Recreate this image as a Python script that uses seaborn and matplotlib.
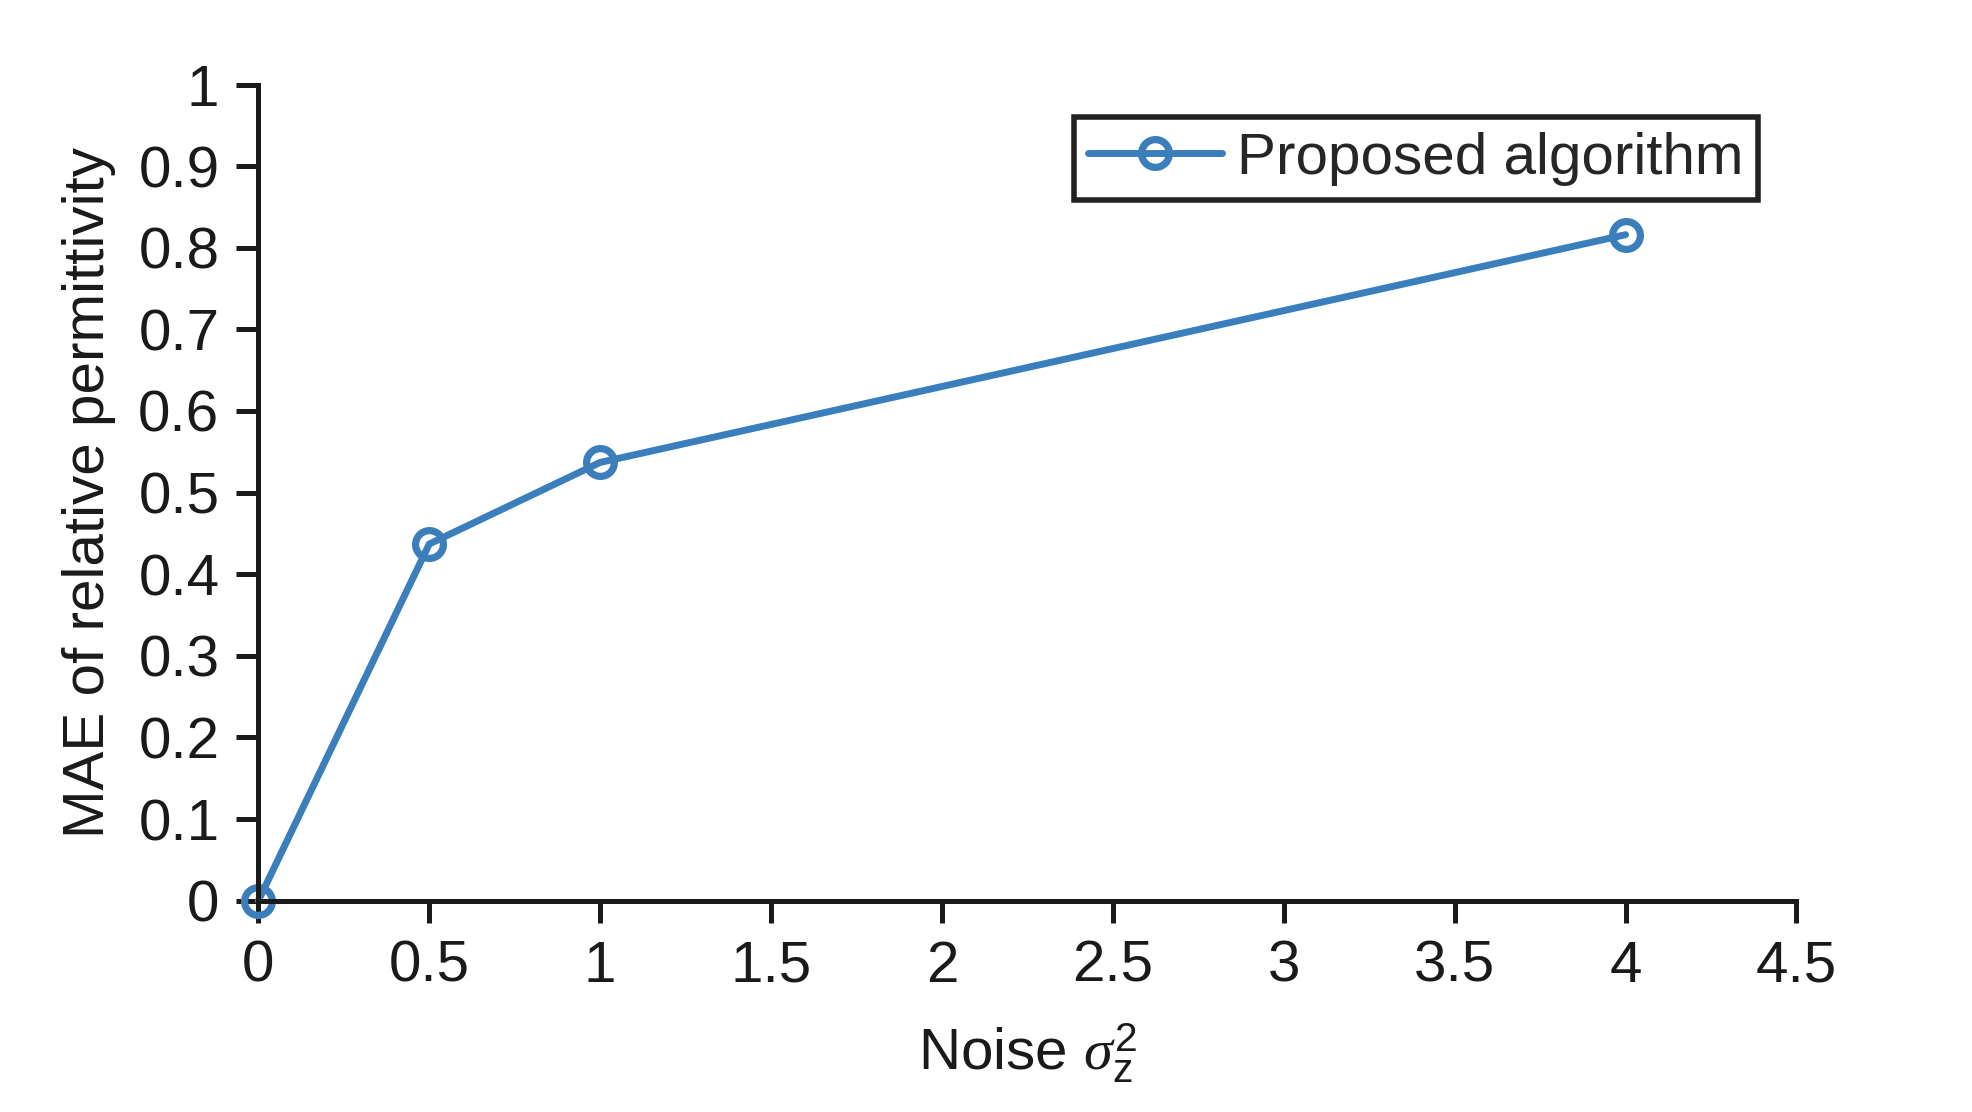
import pandas as pd
import matplotlib
matplotlib.use('Agg')
import matplotlib.pyplot as plt
import seaborn as sns

# Data
noise = [0, 0.5, 1, 4]
mae = [0.0, 0.437, 0.537, 0.816]
series_name = 'Proposed algorithm'
x_ticks = [0, 0.5, 1, 1.5, 2, 2.5, 3, 3.5, 4, 4.5]
y_ticks = [0, 0.1, 0.2, 0.3, 0.4, 0.5, 0.6, 0.7, 0.8, 0.9, 1]

df = pd.DataFrame({'Noise': noise, 'MAE': mae, 'Method': series_name})

sns.set_style('ticks')
plt.rcParams['font.family'] = ['Liberation Sans', 'DejaVu Sans']
plt.rcParams['mathtext.fontset'] = 'custom'
plt.rcParams['mathtext.it'] = 'Liberation Serif:italic'
plt.rcParams['mathtext.rm'] = 'Liberation Sans'

fig = plt.figure(figsize=(9.86, 5.56), dpi=200)
ax = fig.add_axes([0.131, 0.19, 0.78, 0.734])

line_color = '#3a7ebb'
sns.lineplot(data=df, x='Noise', y='MAE', hue='Method', palette=[line_color],
             marker='o', markersize=10, markerfacecolor='none',
             markeredgecolor=line_color, markeredgewidth=2.6,
             linewidth=2.5, ax=ax, clip_on=False)

ax.set_xlim(0, 4.5)
ax.set_ylim(0, 1)
ax.set_xticks(x_ticks)
ax.set_xticklabels([f'{t:g}' for t in x_ticks])
ax.set_yticks(y_ticks)
ax.set_yticklabels([f'{t:g}' for t in y_ticks])

for side in ['top', 'right']:
    ax.spines[side].set_visible(False)
for side in ['left', 'bottom']:
    ax.spines[side].set_linewidth(1.8)
    ax.spines[side].set_color('#1a1a1a')
ax.tick_params(direction='out', length=8, width=1.8, colors='#1a1a1a',
               labelsize=21, labelcolor='#1a1a1a', pad=6)

ax.set_xlabel('Noise $\\sigma_{\\mathrm{z}}^{\\mathrm{2}}$', fontsize=21,
              color='#1a1a1a', labelpad=10)
ax.set_ylabel('MAE of relative permittivity', fontsize=21, color='#1a1a1a', labelpad=8)

leg = ax.legend(loc='upper right', bbox_to_anchor=(0.975, 0.96), fontsize=21,
                frameon=True, fancybox=False, framealpha=1, edgecolor='#222222',
                borderpad=0.25, borderaxespad=0, handlelength=2.3, handletextpad=0.25)
leg.get_frame().set_linewidth(2.0)
leg.set_title(None)

fig.savefig('out.png', dpi=200)
